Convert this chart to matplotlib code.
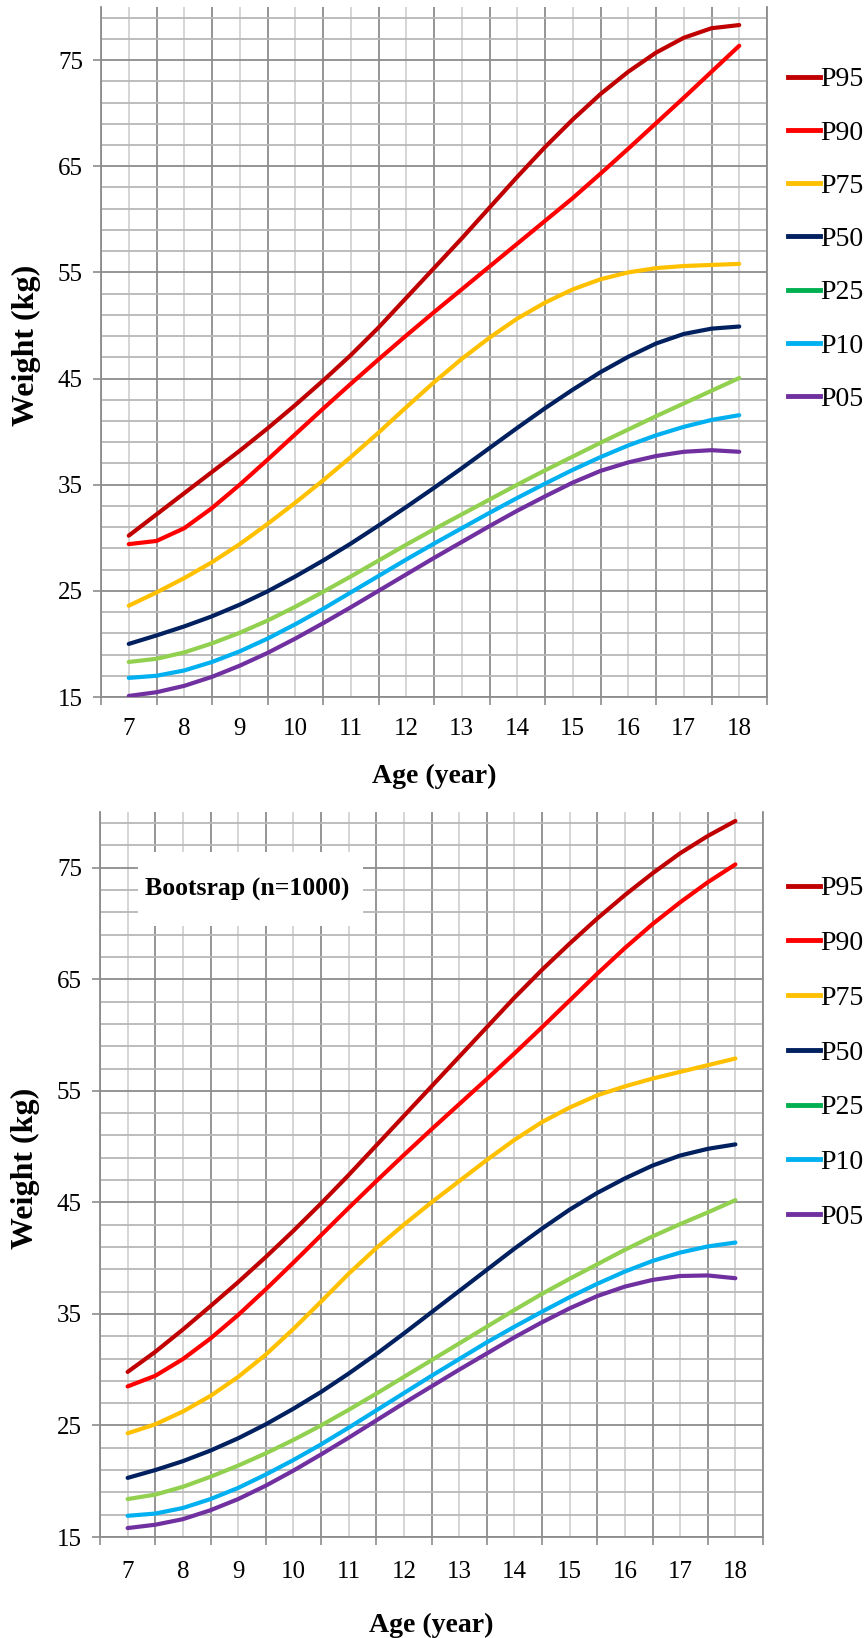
import numpy as np
import matplotlib
matplotlib.use("Agg")
import matplotlib.pyplot as plt
from matplotlib.lines import Line2D
from matplotlib.patches import Rectangle

plt.rcParams["font.family"] = ["Liberation Serif", "DejaVu Serif"]

# Ages (years) at which the percentile curves are given
ages = [7, 7.5, 8, 8.5, 9, 9.5, 10, 10.5, 11, 11.5, 12, 12.5,
        13, 13.5, 14, 14.5, 15, 15.5, 16, 16.5, 17, 17.5, 18]

age_ticks = [7, 8, 9, 10, 11, 12, 13, 14, 15, 16, 17, 18]
age_labels = ["7", "8", "9", "10", "11", "12", "13", "14", "15", "16", "17", "18"]
weight_ticks = [15, 25, 35, 45, 55, 65, 75]
weight_labels = ["15", "25", "35", "45", "55", "65", "75"]

series_names = ["P95", "P90", "P75", "P50", "P25", "P10", "P05"]
line_colors = ["#C00000", "#FF0000", "#FFC000", "#002060", "#92D050", "#00B0F0", "#7030A0"]
legend_colors = ["#C00000", "#FF0000", "#FFC000", "#002060", "#00B050", "#00B0F0", "#7030A0"]

# Observed percentiles (kg)
obs_p95 = [30.2, 32.2, 34.2, 36.2, 38.2, 40.3, 42.5, 44.8, 47.2, 49.8, 52.6, 55.4,
           58.2, 61.1, 64.0, 66.8, 69.4, 71.8, 73.9, 75.7, 77.1, 78.0, 78.3]
obs_p90 = [29.4, 29.7, 30.9, 32.8, 35.0, 37.35, 39.75, 42.15, 44.5, 46.8, 49.05, 51.25,
           53.4, 55.55, 57.7, 59.85, 62.0, 64.3, 66.65, 69.05, 71.45, 73.9, 76.35]
obs_p75 = [23.6, 24.85, 26.2, 27.7, 29.4, 31.3, 33.3, 35.4, 37.6, 39.9, 42.3, 44.65,
           46.85, 48.85, 50.65, 52.15, 53.4, 54.35, 55.0, 55.4, 55.6, 55.7, 55.8]
obs_p50 = [20.0, 20.8, 21.65, 22.6, 23.7, 24.95, 26.35, 27.85, 29.45, 31.15, 32.9, 34.7,
           36.55, 38.45, 40.35, 42.2, 43.95, 45.6, 47.05, 48.3, 49.2, 49.7, 49.9]
obs_p25 = [18.3, 18.6, 19.2, 20.05, 21.05, 22.2, 23.5, 24.9, 26.35, 27.85, 29.35, 30.8,
           32.2, 33.6, 35.0, 36.35, 37.65, 38.95, 40.2, 41.45, 42.65, 43.85, 45.05]
obs_p10 = [16.8, 17.0, 17.5, 18.3, 19.3, 20.5, 21.85, 23.3, 24.85, 26.4, 27.95, 29.45,
           30.9, 32.35, 33.75, 35.1, 36.4, 37.6, 38.7, 39.65, 40.45, 41.1, 41.55]
obs_p05 = [15.1, 15.45, 16.05, 16.9, 17.95, 19.15, 20.5, 21.95, 23.45, 25.0, 26.55, 28.1,
           29.6, 31.1, 32.55, 33.9, 35.2, 36.3, 37.1, 37.7, 38.1, 38.25, 38.1]

# Bootstrap percentiles (kg), n = 1000
boot_p95 = [29.8, 31.6, 33.6, 35.7, 37.85, 40.1, 42.45, 44.9, 47.45, 50.1, 52.75, 55.4,
            58.05, 60.7, 63.35, 65.85, 68.2, 70.45, 72.55, 74.5, 76.3, 77.85, 79.2]
boot_p90 = [28.5, 29.45, 30.95, 32.8, 34.9, 37.2, 39.6, 42.05, 44.5, 46.9, 49.25, 51.55,
            53.8, 56.05, 58.35, 60.7, 63.1, 65.5, 67.8, 69.95, 71.9, 73.7, 75.3]
boot_p75 = [24.3, 25.1, 26.25, 27.65, 29.35, 31.35, 33.65, 36.1, 38.6, 40.9, 43.0, 45.0,
            46.9, 48.8, 50.6, 52.2, 53.5, 54.6, 55.4, 56.1, 56.7, 57.3, 57.9]
boot_p50 = [20.3, 21.0, 21.8, 22.75, 23.85, 25.1, 26.5, 28.0, 29.65, 31.4, 33.25, 35.15,
            37.05, 38.95, 40.85, 42.65, 44.35, 45.85, 47.15, 48.3, 49.2, 49.8, 50.2]
boot_p25 = [18.4, 18.8, 19.5, 20.4, 21.4, 22.5, 23.7, 25.0, 26.4, 27.85, 29.35, 30.85,
            32.35, 33.85, 35.35, 36.8, 38.15, 39.45, 40.75, 41.95, 43.05, 44.1, 45.2]
boot_p10 = [16.9, 17.1, 17.6, 18.4, 19.4, 20.6, 21.9, 23.3, 24.8, 26.35, 27.9, 29.45,
            30.95, 32.45, 33.85, 35.2, 36.5, 37.7, 38.8, 39.75, 40.5, 41.05, 41.4]
boot_p05 = [15.8, 16.1, 16.6, 17.4, 18.4, 19.6, 20.95, 22.4, 23.9, 25.45, 27.0, 28.5,
            30.0, 31.45, 32.9, 34.25, 35.5, 36.6, 37.45, 38.05, 38.4, 38.45, 38.2]

obs_series = [obs_p95, obs_p90, obs_p75, obs_p50, obs_p25, obs_p10, obs_p05]
boot_series = [boot_p95, boot_p90, boot_p75, boot_p50, boot_p25, boot_p10, boot_p05]

W, H = 865, 1638
fig = plt.figure(figsize=(W / 100, H / 100), dpi=100)

MAJOR_GRID = "#8c8c8c"
MINOR_GRID_Y = "#b8b8b8"
MINOR_GRID_X = "#d2d2d2"


def px_rect(left, top, right, bottom):
    return [left / W, 1 - bottom / H, (right - left) / W, (bottom - top) / H]


def draw_panel(rect, series, xtick_pad, xlabel_y, legend_top, legend_spacing):
    ax = fig.add_axes(rect)
    ax.set_xlim(6.5, 18.5)
    ax.set_ylim(15, 80)
    ax.set_axisbelow(True)

    # category boundaries carry the tick marks, category centres the labels
    ax.set_xticks(np.arange(6.5, 18.6, 1.0))
    ax.set_xticklabels([])
    ax.set_xticks(age_ticks, labels=age_labels, minor=True)
    ax.set_yticks(weight_ticks, labels=weight_labels)
    ax.set_yticks([v for v in range(17, 80, 2) if v not in weight_ticks], minor=True)

    ax.tick_params(axis="x", which="major", length=6, width=1.2, color=MAJOR_GRID)
    ax.tick_params(axis="x", which="minor", length=0, pad=xtick_pad, labelsize=18)
    ax.tick_params(axis="y", which="major", length=6, width=1.2, color=MAJOR_GRID,
                   pad=7, labelsize=18)
    ax.tick_params(axis="y", which="minor", length=0)

    ax.grid(True, which="major", axis="both", color=MAJOR_GRID, lw=1.3)
    ax.grid(True, which="minor", axis="y", color=MINOR_GRID_Y, lw=1.3)
    ax.grid(True, which="minor", axis="x", color=MINOR_GRID_X, lw=1.3)

    for side in ("left", "bottom", "right"):
        ax.spines[side].set_color(MAJOR_GRID)
        ax.spines[side].set_linewidth(1.3)
    ax.spines["top"].set_visible(False)

    for vals, color in zip(series, line_colors):
        ax.plot(ages, vals, color=color, lw=3.0, solid_capstyle="round",
                solid_joinstyle="round", zorder=3)

    ax.set_xlabel("Age (year)", fontsize=20, fontweight="bold")
    ax.xaxis.set_label_coords(0.5, xlabel_y)
    ax.set_ylabel("Weight (kg)", fontsize=23, fontweight="bold")
    ax.yaxis.set_label_coords(-0.09, 0.509)

    handles = [Line2D([], [], color=c, lw=3.5) for c in legend_colors]
    ax.legend(handles, series_names, loc="upper left",
              bbox_to_anchor=(788 / W, 1 - legend_top / H),
              bbox_transform=fig.transFigure, frameon=False,
              handlelength=1.15, handletextpad=0.0, labelspacing=legend_spacing,
              borderpad=0, borderaxespad=0, prop={"size": 20})
    return ax


ax_top = draw_panel(px_rect(101, 7, 767, 697), obs_series,
                    xtick_pad=15, xlabel_y=-0.0975, legend_top=67, legend_spacing=1.0)
ax_bot = draw_panel(px_rect(100, 812, 763, 1537), boot_series,
                    xtick_pad=17, xlabel_y=-0.1045, legend_top=876, legend_spacing=1.055)

# white label box over the grid of the bootstrap panel
ax_bot.add_patch(Rectangle((0.0573, 0.8428), 0.3394, 0.102, transform=ax_bot.transAxes,
                           facecolor="white", edgecolor="none", zorder=1))
ax_bot.text(0.2217, 0.893, "Bootsrap (n=1000)", transform=ax_bot.transAxes,
            ha="center", va="center", fontsize=18.5, fontweight="bold", zorder=4)

fig.savefig("out.png", dpi=100)
